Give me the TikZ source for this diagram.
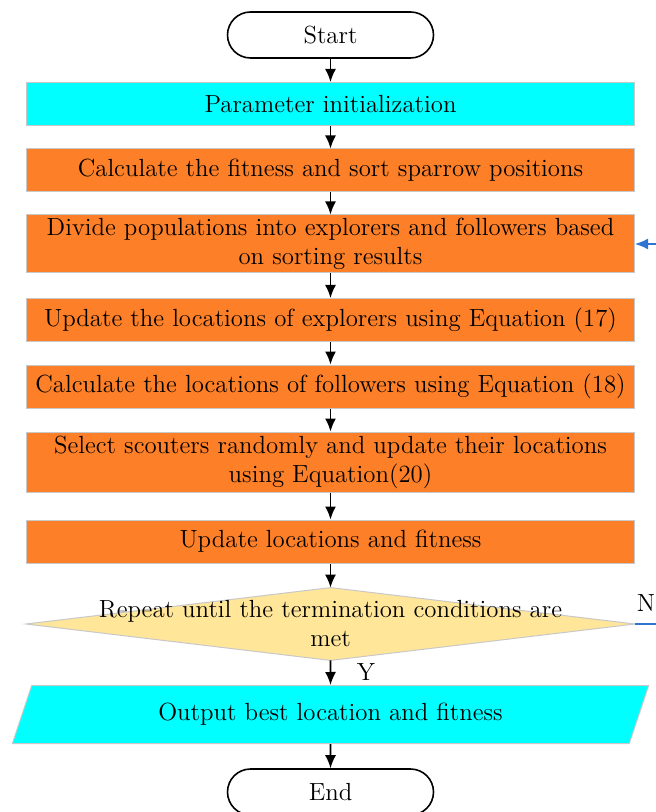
\documentclass[tikz,border=0pt]{standalone}
\usepackage{tikz}
\usetikzlibrary{arrows.meta, shapes.geometric}

\definecolor{procorange}{RGB}{253,127,39}
\definecolor{iocyan}{RGB}{0,255,255}
\definecolor{decyellow}{RGB}{255,230,153}
\definecolor{loopblue}{RGB}{46,117,210}
\definecolor{edgegray}{RGB}{200,200,200}

\begin{document}
\begin{tikzpicture}[x=0.5pt, y=-0.5pt, >={Latex[length=6.5pt,width=5.5pt]},
    every node/.style={font=\fontsize{12.4}{14.5}\selectfont},
    term/.style={draw, line width=0.8pt, rounded corners=11.5pt, minimum width=103pt, minimum height=23pt, inner sep=0pt},
    proc/.style={draw=edgegray, line width=0.5pt, fill=procorange, minimum width=304pt, minimum height=21.5pt, inner sep=0pt, align=center},
    init/.style={proc, fill=iocyan},
    io/.style={trapezium, trapezium left angle=63.4, trapezium right angle=116.6, trapezium stretches=true,
        draw=edgegray, line width=0.5pt, fill=iocyan, minimum width=318.5pt, minimum height=29pt, inner sep=0pt},
    flow/.style={->, line width=0.8pt}]
    \useasboundingbox (0,0) rectangle (655,812);

    % steps, top to bottom
    \node (start) [term] at (330.5,35) {Start};
    \node (param) [init] at (330.5,104) {Parameter initialization};
    \node (fit) [proc] at (330.5,170.5) {Calculate the fitness and sort sparrow positions};
    \node (divide) [proc, minimum height=29pt] at (330.5,244) {Divide populations into explorers and followers based\\on sorting results};
    \node (explore) [proc] at (330.5,320) {Update the locations of explorers using Equation (17)};
    \node (follow) [proc] at (330.5,386.5) {Calculate the locations of followers using Equation (18)};
    \node (scout) [proc, minimum height=30pt] at (330.5,462) {Select scouters randomly and update their locations\\using Equation(20)};
    \node (upd) [proc] at (330.5,541.5) {Update locations and fitness};

    % decision: diamond drawn on the anchors of a plain box
    \node (dec) [minimum width=304pt, minimum height=36pt, inner sep=0pt] at (330.5,624) {};
    \draw[draw=edgegray, line width=0.5pt, fill=decyellow] (dec.west) -- (dec.north) -- (dec.east) -- (dec.south) -- cycle;
    \node (dectext) [align=center] at (dec) {Repeat until the termination conditions are\\met};

    \node (out) [io] at (330.5,714.5) {Output best location and fitness};
    \node (stop) [term] at (330.5,792) {End};

    \draw[flow] (start) -- (param);
    \draw[flow] (param) -- (fit);
    \draw[flow] (fit) -- (divide);
    \draw[flow] (divide) -- (explore);
    \draw[flow] (explore) -- (follow);
    \draw[flow] (follow) -- (scout);
    \draw[flow] (scout) -- (upd);
    \draw[flow] (upd) -- (dec.north);
    \draw[flow] (dec.south) -- (out);
    \draw[flow] (out) -- (stop);

    % loop back when not finished
    \coordinate (loopr) at (700,624);
    \draw[->, loopblue, line width=0.75pt] (dec.east) -- (loopr) |- (divide.east);
    \node (ylab) at (366,672) {Y};
    \node (nlab) at (646,603) {N};
\end{tikzpicture}
\end{document}
